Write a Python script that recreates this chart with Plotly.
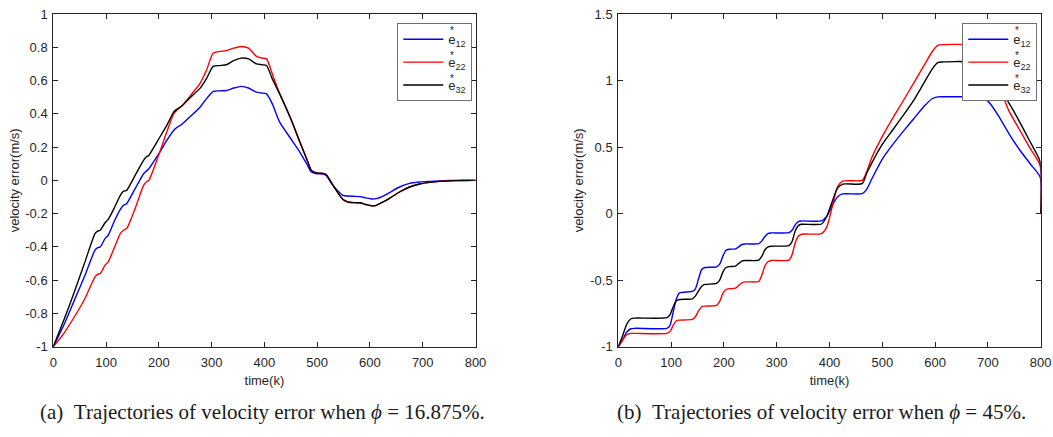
import plotly.graph_objects as go

W, H = 1053, 437

# ---------------- data: left panel (phi = 16.875%) ----------------
x_left = [0, 20, 40, 60, 79, 84, 89, 98, 104, 115, 127, 133, 139, 155, 171, 176, 181,
          200, 215, 228, 235, 243, 260, 278, 290, 303, 315, 328, 342, 356, 370, 385,
          395, 404, 415, 429, 450, 467, 480, 489, 499, 511, 517, 530, 549, 558, 570,
          581, 592, 603, 612, 625, 637, 656, 675, 694, 713, 732, 751, 775, 800]
e12_left = [-1, -0.87, -0.72, -0.57, -0.42, -0.405, -0.40, -0.35, -0.33, -0.25, -0.175,
            -0.15, -0.14, -0.05, 0.04, 0.055, 0.07, 0.16, 0.24, 0.30, 0.32, 0.335, 0.385,
            0.44, 0.49, 0.535, 0.538, 0.54, 0.555, 0.565, 0.555, 0.53, 0.525, 0.52, 0.46,
            0.35, 0.25, 0.17, 0.10, 0.05, 0.04, 0.038, 0.03, -0.03, -0.09, -0.094, -0.096,
            -0.098, -0.105, -0.112, -0.11, -0.095, -0.074, -0.04, -0.018, -0.01, -0.006,
            -0.003, -0.001, 0.0, 0.0]
e22_left = [-1, -0.92, -0.82, -0.71, -0.58, -0.565, -0.56, -0.51, -0.49, -0.41, -0.32,
            -0.30, -0.29, -0.17, -0.03, -0.01, 0.0, 0.155, 0.29, 0.40, 0.425, 0.445, 0.51,
            0.583, 0.66, 0.765, 0.775, 0.78, 0.795, 0.805, 0.795, 0.745, 0.735, 0.73, 0.64,
            0.52, 0.37, 0.235, 0.13, 0.06, 0.045, 0.042, 0.035, -0.03, -0.115, -0.13,
            -0.134, -0.135, -0.145, -0.153, -0.15, -0.13, -0.108, -0.07, -0.04, -0.022,
            -0.012, -0.006, -0.003, -0.001, 0.0]
e32_left = [-1, -0.84, -0.67, -0.49, -0.32, -0.305, -0.30, -0.255, -0.235, -0.17, -0.09,
            -0.065, -0.06, 0.03, 0.12, 0.14, 0.15, 0.25, 0.33, 0.41, 0.43, 0.445, 0.50,
            0.553, 0.61, 0.685, 0.69, 0.695, 0.72, 0.735, 0.73, 0.70, 0.695, 0.69, 0.61,
            0.52, 0.37, 0.23, 0.13, 0.06, 0.045, 0.042, 0.035, -0.03, -0.115, -0.13,
            -0.134, -0.135, -0.145, -0.153, -0.15, -0.13, -0.108, -0.07, -0.04, -0.022,
            -0.012, -0.006, -0.003, -0.001, 0.0]

# ---------------- data: right panel (phi = 45%) ----------------
x_right = [0, 8, 16, 24, 32, 92, 98, 104, 110, 116, 140, 146, 152, 158, 164, 186, 192,
           198, 204, 210, 222, 228, 234, 240, 266, 272, 278, 284, 290, 323, 329, 335,
           341, 347, 385, 395, 405, 415, 425, 462, 470, 480, 500, 520, 540, 560, 580,
           595, 605, 615, 660, 680, 700, 720, 740, 760, 780, 799, 800]
e12_right = [-1, -0.95, -0.89, -0.865, -0.862, -0.862, -0.84, -0.74, -0.64, -0.595,
             -0.585, -0.565, -0.49, -0.42, -0.405, -0.40, -0.38, -0.32, -0.275, -0.268,
             -0.265, -0.25, -0.232, -0.228, -0.225, -0.205, -0.17, -0.148, -0.145,
             -0.143, -0.125, -0.085, -0.06, -0.055, -0.055, -0.02, 0.06, 0.125, 0.148,
             0.15, 0.18, 0.26, 0.41, 0.52, 0.62, 0.715, 0.81, 0.865, 0.877, 0.878, 0.878,
             0.876, 0.845, 0.735, 0.60, 0.48, 0.375, 0.275, 0.0]
e22_right = [-1, -0.95, -0.91, -0.90, -0.90, -0.90, -0.885, -0.84, -0.805, -0.80,
             -0.795, -0.775, -0.73, -0.70, -0.695, -0.69, -0.66, -0.60, -0.57, -0.565,
             -0.56, -0.54, -0.52, -0.513, -0.51, -0.46, -0.39, -0.36, -0.352, -0.35,
             -0.31, -0.22, -0.17, -0.155, -0.15, -0.10, 0.05, 0.20, 0.245, 0.25, 0.31,
             0.42, 0.58, 0.72, 0.85, 0.985, 1.12, 1.22, 1.265, 1.27, 1.27, 1.25, 1.16,
             0.97, 0.77, 0.63, 0.49, 0.36, 0.0]
e32_right = [-1, -0.92, -0.83, -0.79, -0.785, -0.782, -0.76, -0.70, -0.655, -0.645,
             -0.64, -0.62, -0.58, -0.545, -0.532, -0.525, -0.50, -0.44, -0.405, -0.398,
             -0.395, -0.375, -0.357, -0.352, -0.35, -0.32, -0.27, -0.25, -0.245, -0.24,
             -0.21, -0.13, -0.09, -0.08, -0.078, -0.02, 0.09, 0.19, 0.222, 0.225, 0.30,
             0.38, 0.52, 0.63, 0.74, 0.855, 0.99, 1.09, 1.135, 1.14, 1.14, 1.11, 1.04,
             0.95, 0.83, 0.69, 0.54, 0.39, 0.0]

# ---------------- tick labels ----------------
x_ticks = [0, 100, 200, 300, 400, 500, 600, 700, 800]
x_ticktext = ["0", "100", "200", "300", "400", "500", "600", "700", "800"]
y_ticks_left = [-1, -0.8, -0.6, -0.4, -0.2, 0, 0.2, 0.4, 0.6, 0.8, 1]
y_ticktext_left = ["-1", "-0.8", "-0.6", "-0.4", "-0.2", "0", "0.2", "0.4", "0.6", "0.8", "1"]
y_ticks_right = [-1, -0.5, 0, 0.5, 1, 1.5]
y_ticktext_right = ["-1", "-0.5", "0", "0.5", "1", "1.5"]

series_names = ["e<sub>12</sub>", "e<sub>22</sub>", "e<sub>32</sub>"]
series_colors = ["#0000ff", "#ff0000", "#000000"]
captions = ["(a)\u00a0\u00a0Trajectories of velocity error when <i>ϕ</i> = 16.875%.",
            "(b)\u00a0\u00a0Trajectories of velocity error when <i>ϕ</i> = 45%."]

fig = go.Figure()

left_sets = [e12_left, e22_left, e32_left]
right_sets = [e12_right, e22_right, e32_right]
for i, (name, col, ys) in enumerate(zip(series_names, series_colors, left_sets)):
    fig.add_trace(go.Scatter(x=x_left, y=ys, mode="lines", name=name, legendgroup=f"L{i}",
                             line=dict(color=col, width=1.4, shape="spline", smoothing=0.6),
                             xaxis="x", yaxis="y", legend="legend"))
for i, (name, col, ys) in enumerate(zip(series_names, series_colors, right_sets)):
    fig.add_trace(go.Scatter(x=x_right, y=ys, mode="lines", name=name, legendgroup=f"R{i}",
                             line=dict(color=col, width=1.4, shape="spline", smoothing=0.6),
                             xaxis="x2", yaxis="y2", legend="legend2"))

def px_x(p):
    return p / W

def px_y(p):
    return 1 - p / H

axcol = "#262626"
tickfont = dict(family="Liberation Sans, Arial, sans-serif", size=13, color="#262626")

common_ax = dict(showline=True, linecolor=axcol, linewidth=1, mirror="ticks",
                 ticks="inside", ticklen=5, tickcolor=axcol, tickwidth=1,
                 showgrid=False, zeroline=False, tickfont=tickfont,
                 title_font=tickfont, automargin=False)

legend_font = dict(family="Liberation Sans, Arial, sans-serif", size=13, color="#262626")

fig.update_layout(
    template="none",
    width=W, height=H,
    margin=dict(l=0, r=0, t=0, b=0, autoexpand=False),
    paper_bgcolor="white", plot_bgcolor="white",
    xaxis=dict(domain=[px_x(53.3), px_x(475.5)], range=[0, 800], tickvals=x_ticks,
               ticktext=x_ticktext, anchor="y", title=dict(text="time(k)", standoff=6),
               ticklabelstandoff=4, **common_ax),
    yaxis=dict(domain=[px_y(346.7), px_y(14)], range=[-1, 1], tickvals=y_ticks_left,
               ticktext=y_ticktext_left, anchor="x",
               title=dict(text="velocity error(m/s)", standoff=2),
               ticklabelstandoff=2, **common_ax),
    xaxis2=dict(domain=[px_x(618.3), px_x(1040.7)], range=[0, 800], tickvals=x_ticks,
                ticktext=x_ticktext, anchor="y2", title=dict(text="time(k)", standoff=6),
                ticklabelstandoff=4, **common_ax),
    yaxis2=dict(domain=[px_y(346.7), px_y(14)], range=[-1, 1.5], tickvals=y_ticks_right,
                ticktext=y_ticktext_right, anchor="x2",
                title=dict(text="velocity error(m/s)", standoff=3),
                ticklabelstandoff=2, **common_ax),
    legend=dict(x=px_x(397.3), y=px_y(23.3), xanchor="left", yanchor="top",
                bgcolor="white", bordercolor="#707070", borderwidth=1,
                font=legend_font, itemwidth=40, tracegroupgap=3),
    legend2=dict(x=px_x(962.3), y=px_y(23.3), xanchor="left", yanchor="top",
                 bgcolor="white", bordercolor="#707070", borderwidth=1,
                 font=legend_font, itemwidth=40, tracegroupgap=3),
    showlegend=True,
)

annotations = []
cap_font = dict(family="Liberation Serif, Times New Roman, serif", size=21, color="#1a1a1a")
annotations.append(dict(text=captions[0], x=px_x(262), y=px_y(412), xref="paper", yref="paper",
                        showarrow=False, xanchor="center", yanchor="middle", font=cap_font))
annotations.append(dict(text=captions[1], x=px_x(821), y=px_y(412), xref="paper", yref="paper",
                        showarrow=False, xanchor="center", yanchor="middle", font=cap_font))
# superscript stars stacked above subscripts in legend labels
star_font = dict(family="Liberation Sans, Arial, sans-serif", size=10, color="#262626")
for lx in (451.7, 1017.3):
    for ly in (31, 55, 79):
        annotations.append(dict(text="*", x=px_x(lx), y=px_y(ly), xref="paper", yref="paper",
                                showarrow=False, xanchor="center", yanchor="middle",
                                font=star_font))
fig.update_layout(annotations=annotations)

fig.write_html("out.html")
